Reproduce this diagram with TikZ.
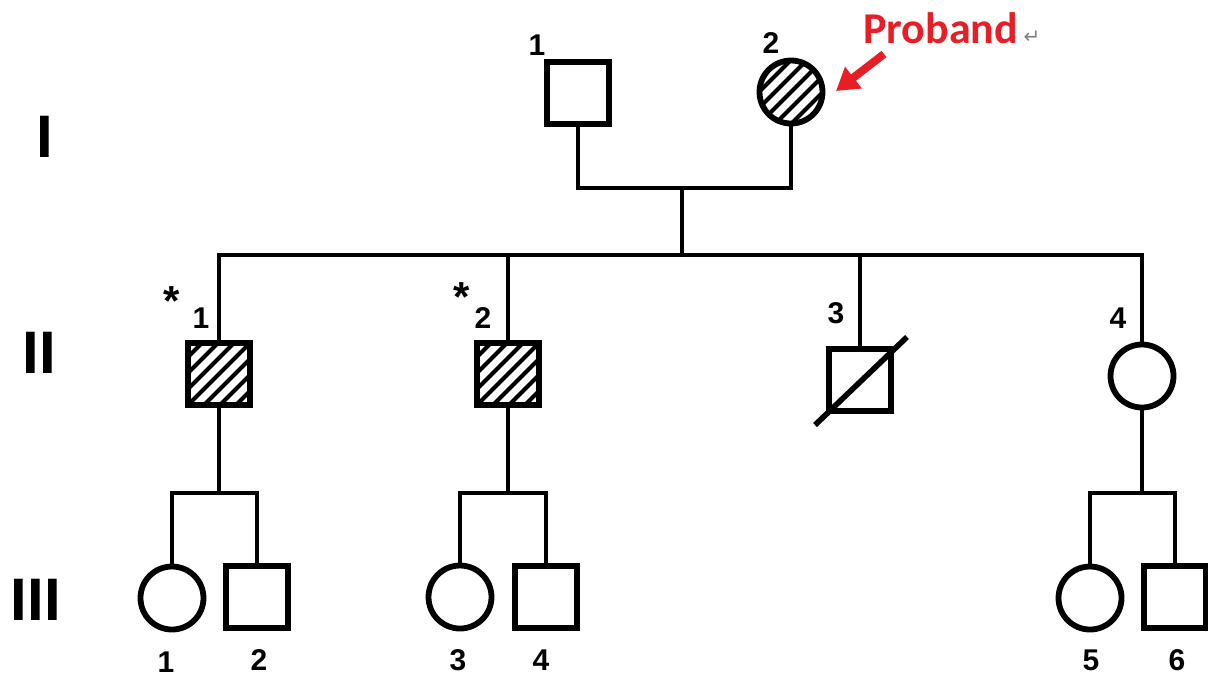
\documentclass[tikz,border=0pt]{standalone}
\usepackage{fontspec}
\setmainfont{Liberation Sans}
\newfontfamily\probandfont{Carlito}
\newfontfamily\symbolfont{DejaVu Sans}
\usetikzlibrary{arrows.meta}
\definecolor{probandred}{RGB}{232,30,38}

\begin{document}
\begin{tikzpicture}[x=0.5pt,y=-0.5pt,>={Triangle[length=11pt,width=13pt]},line width=2.3pt,
    male/.style={draw,rectangle,line width=2.9pt,minimum size=31pt,inner sep=0pt},
    female/.style={draw,circle,line width=2.9pt,minimum size=31.5pt,inner sep=0pt},
    hatched/.style={path picture={
        \foreach \k in {-4,...,4}
          \draw[line width=2pt] ([xshift=\k*8pt]path picture bounding box.center) ++(-50,50) -- ++(100,-100);}},
    num/.style={font=\bfseries\fontsize{15}{15}\selectfont,inner sep=0pt},
    star/.style={font=\bfseries\fontsize{21}{21}\selectfont,inner sep=0pt},
    gen/.style={font=\bfseries\fontsize{30}{30}\selectfont,inner sep=0pt}]
    \useasboundingbox (0,0) rectangle (1208,677);

    % generation I
    \node[male]           (i1) at (578,93) {};
    \node[female,hatched] (i2) at (791,92) {};
    % generation II
    \node[male,hatched]   (ii1) at (219,374) {};
    \node[male,hatched]   (ii2) at (508,374) {};
    \node[male]           (ii3) at (860,380) {};
    \node[female]         (ii4) at (1142,376) {};
    % generation III
    \node[female] (iii1) at (172,598) {};
    \node[male]   (iii2) at (257,597) {};
    \node[female] (iii3) at (460,597) {};
    \node[male]   (iii4) at (546,597) {};
    \node[female] (iii5) at (1090,598) {};
    \node[male]   (iii6) at (1175,597) {};

    \coordinate (m1) at (682,188);
    \coordinate (sib) at (682,255);
    \coordinate (f1) at (219,493);
    \coordinate (f2) at (508,493);
    \coordinate (f4) at (1142,493);

    \draw (i1.south) |- (m1) -| (i2.south);
    \draw (m1) -- (sib);
    \draw (ii1.north) |- (sib) -| (ii4.north);
    \draw (ii2.north) -- (ii2.north |- sib);
    \draw (ii3.north) -- (ii3.north |- sib);
    \draw (ii1.south) -- (f1);
    \draw (ii2.south) -- (f2);
    \draw (ii4.south) -- (f4);
    \draw (iii1.north) |- (f1) -| (iii2.north);
    \draw (iii3.north) |- (f2) -| (iii4.north);
    \draw (iii5.north) |- (f4) -| (iii6.north);

    % deceased
    \draw[line width=2.8pt] (ii3.center) ++(-45,45) -- ++(92,-88);

    % numbers
    \node[num] (n-i1) at (537,45) {1};
    \node[num] (n-i2) at (771,43) {2};
    \node[star] (s-ii1) at (172,301) {*};
    \node[num] (n-ii1) at (201,318) {1};
    \node[star] (s-ii2) at (462,297) {*};
    \node[num] (n-ii2) at (483,318) {2};
    \node[num] (n-ii3) at (836,313) {3};
    \node[num] (n-ii4) at (1118,318) {4};
    \node[num] (n-iii1) at (166,662) {1};
    \node[num] (n-iii2) at (259,660) {2};
    \node[num] (n-iii3) at (458,660) {3};
    \node[num] (n-iii4) at (541,660) {4};
    \node[num] (n-iii5) at (1091,660) {5};
    \node[num] (n-iii6) at (1177,660) {6};

    % generations
    \node[gen] (g1) at (45,137) {I};
    \node[gen] (g2) at (39,353) {II};
    \node[gen] (g3) at (36,600) {III};

    % proband
    \node[font=\probandfont\bfseries\fontsize{22}{22}\selectfont,text=probandred,anchor=base west,inner sep=0pt] (proband) at (861,43) {Proband};
    \node[font=\symbolfont\fontsize{10}{10}\selectfont,text=gray,anchor=base west,inner sep=0.5pt] (pmark) at (proband.base east) {↵};
    \coordinate (ptail) at (884,54);
    \coordinate (ptip) at (836,91);
    \draw[->,probandred,line width=4pt] (ptail) -- (ptip);
\end{tikzpicture}
\end{document}
